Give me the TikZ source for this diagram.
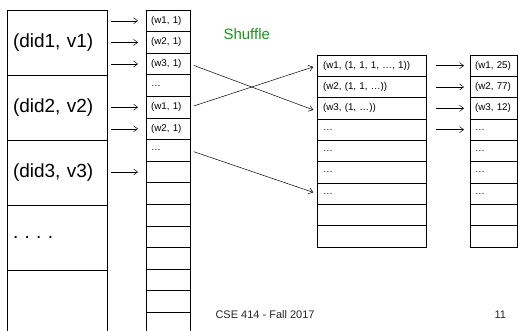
\documentclass[tikz,border=0pt]{standalone}
\usepackage{fontspec}
\setmainfont{Liberation Sans}
\usetikzlibrary{arrows.meta,positioning}
\definecolor{ShuffleGreen}{HTML}{1C941C}
\definecolor{FootGray}{HTML}{262626}
\tikzset{
  record/.style={draw, line width=0.8pt, anchor=north west, inner xsep=6pt, inner ysep=0pt,
    outer sep=0pt, text width=88pt, minimum height=65pt, align=left,
    font=\fontsize{19}{22}\selectfont},
  pairbox/.style={draw, line width=0.7pt, anchor=north west, inner xsep=5pt, inner ysep=0pt,
    outer sep=0pt, text width=34pt, minimum height=21.6pt, align=left,
    font=\fontsize{9.8}{11}\selectfont},
  groupbox/.style={pairbox, inner xsep=6pt, text width=97pt, minimum height=21.33pt},
  countbox/.style={pairbox, inner xsep=5pt, text width=37pt, minimum height=21.33pt},
  feed/.style={-{Straight Barb[length=4pt, width=6pt]}, line width=0.5pt},
  footer/.style={anchor=west, text=FootGray, font=\fontsize{11}{13}\selectfont}
}
\begin{document}
\begin{tikzpicture}[x=1pt, y=-1pt]
  \useasboundingbox (0,0) rectangle (519,331);
  % input records
  \foreach \lbl [count=\i] in {{(did1, v1)}, {(did2, v2)}, {(did3, v3)}, {.\ .\ .\ .}, {}}
    \node[record] (l\i) at (7, {10+(\i-1)*65}) {\lbl};
  % map output
  \foreach \lbl [count=\i] in {{(w1, 1)}, {(w2, 1)}, {(w3, 1)}, \ldots, {(w1, 1)}, {(w2, 1)}, \ldots,
      {}, {}, {}, {}, {}, {}, {}, {}}
    \node[pairbox] (m\i) at (146, {10+(\i-1)*21.6}) {\lbl};
  % grouped
  \foreach \lbl [count=\i] in {{(w1, (1, 1, 1, \ldots, 1))}, {(w2, (1, 1, \ldots))}, {(w3, (1, \ldots))},
      \ldots, \ldots, \ldots, \ldots, {}, {}}
    \node[groupbox] (s\i) at (317, {55+(\i-1)*21.33}) {\lbl};
  % reduce output
  \foreach \lbl [count=\i] in {{(w1, 25)}, {(w2, 77)}, {(w3, 12)}, \ldots, \ldots, \ldots, \ldots, {}, {}}
    \node[countbox] (t\i) at (470, {55+(\i-1)*21.33}) {\lbl};

  \node[anchor=west, text=ShuffleGreen, font=\fontsize{15}{18}\selectfont] (shuffle) at (220, 34) {Shuffle};

  \draw[feed, shorten <=4pt, shorten >=8pt] (l1.east |- m1.west) -- (m1.west);
  \draw[feed, shorten <=4pt, shorten >=8pt] (l1.east |- m2.west) -- (m2.west);
  \draw[feed, shorten <=4pt, shorten >=8pt] (l1.east |- m3.west) -- (m3.west);
  \draw[feed, shorten <=4pt, shorten >=8pt] (l2.east |- m5.west) -- (m5.west);
  \draw[feed, shorten <=4pt, shorten >=8pt] (l2.east |- m6.west) -- (m6.west);
  \draw[feed, shorten <=4pt, shorten >=8pt] (l3.east |- m8.west) -- (m8.west);

  \draw[feed, shorten <=4pt, shorten >=4pt] (m3.east) -- ([yshift=-3pt]s3.west);
  \draw[feed, shorten <=4pt, shorten >=4pt] (m5.east) -- (s1.west);
  \draw[feed, shorten <=4pt, shorten >=4pt] (m7.east) -- (s7.west);

  \draw[feed, shorten <=10pt, shorten >=6pt] (s1.east) -- (t1.west);
  \draw[feed, shorten <=10pt, shorten >=6pt] (s2.east) -- (t2.west);
  \draw[feed, shorten <=10pt, shorten >=6pt] (s3.east) -- (t3.west);
  \draw[feed, shorten <=10pt, shorten >=6pt] (s4.east) -- (t4.west);

  \node[footer] (course) at (212, 315) {CSE 414 - Fall 2017};
  \node[footer] (page) at (491, 315) {11};
\end{tikzpicture}
\end{document}
